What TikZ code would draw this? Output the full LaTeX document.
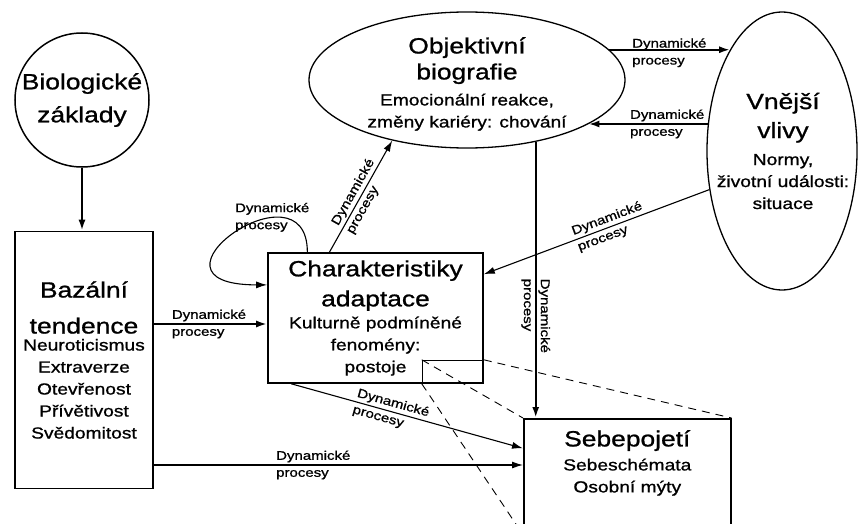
\documentclass[tikz,border=0pt]{standalone}
\usepackage{fontspec}
\setmainfont{Liberation Sans}[FakeStretch=1.2, FakeBold=1]
\usepackage{tikz}
\usetikzlibrary{arrows.meta,shapes.geometric,positioning}

\newcommand{\titlefont}{\fontsize{22}{30}\selectfont}
\newcommand{\itemfont}{\fontsize{16}{22}\selectfont}
\newcommand{\procfont}{\fontsize{12.5}{17}\selectfont}

\begin{document}
\begin{tikzpicture}[x=1pt, y=-1pt, >={Latex[length=11pt,width=7pt]},
    box/.style={draw, line width=1.6pt, fill=white, inner sep=0pt, align=center, font=\itemfont},
    oval/.style={draw, ellipse, line width=1.3pt, inner sep=0pt},
    txt/.style={align=center, font=\itemfont, inner sep=0pt},
    proc/.style={align=left, font=\procfont, inner sep=0pt},
    flow/.style={->, line width=1.1pt},
    bold flow/.style={->, line width=2.2pt},
    zoom line/.style={dash pattern=on 8pt off 6pt, line width=0.9pt}]
  \def \dyn {Dynamické\\procesy}
  \useasboundingbox (0,0) rectangle (859,524);

  % uzly
  \node[draw, circle, line width=1.5pt, minimum size=134pt, inner sep=0pt, align=center, font=\titlefont] (bio) at (82,100) {Biologické\\[3pt]základy};
  \node[box, minimum width=138pt, minimum height=257pt] (baz) at (84,360)
    {{\titlefont Bazální}\\[14pt]{\titlefont tendence}\\[-5pt]Neuroticismus\\Extraverze\\Otevřenost\\Přívětivost\\Svědomitost};
  \node[box, minimum width=215pt, minimum height=130pt] (char) at (375.5,318)
    {{\titlefont Charakteristiky}\\[8pt]{\titlefont adaptace}\\Kulturně podmíněné\\fenomény:\\postoje};
  \node[draw, line width=1pt, minimum width=61pt, minimum height=23pt, inner sep=0pt, anchor=south east] (postoje) at (char.south east) {};
  \node[box, minimum width=207pt, minimum height=115pt, anchor=north west] (sebe) at (523,418) {};
  \node[txt, below=12pt of sebe.north] (sebetxt) {{\titlefont Sebepojetí}\\[2pt]Sebeschémata\\Osobní mýty};

  \node[oval, minimum width=316pt, minimum height=136pt] (obj) at (467,80) {};
  \node[txt] (objtxt) at (467,84) {{\titlefont Objektivní}\\[4pt]{\titlefont biografie}\\[4pt]Emocionální reakce,\\změny kariéry: chování};
  \node[oval, minimum width=150pt, minimum height=278pt] (vne) at (782,151) {};
  \node[txt] (vnetxt) at (783,151) {{\titlefont Vnější}\\[7pt]{\titlefont vlivy}\\[5pt]Normy,\\životní události:\\situace};

  \coordinate (midlvl) at (0,324);
  \coordinate (lowlvl) at (0,465);

  % spojnice
  \draw[bold flow] (bio.south) -- (bio.south |- baz.north);
  \draw[bold flow] (baz.east |- midlvl) -- node[proc, anchor=west, pos=0.15] {\dyn} (char.west |- midlvl);
  \draw[flow] (baz.east |- lowlvl) -- node[proc, anchor=west, pos=0.33] {\dyn} (sebe.west |- lowlvl);
  \draw[flow] (char.218) -- node[proc, sloped, pos=0.43] {\dyn} (sebe.165);
  \draw[flow] (char.125) -- node[proc, sloped, pos=0.5] {\dyn} (obj.219);
  \draw[flow] (char.136) .. controls +(0,-95) and +(-140,0) .. node[proc, pos=0.3] {\dyn} (char.163);
  \draw[flow] (vne.208) -- node[proc, sloped, pos=0.44] {\dyn} (char.22);
  \draw[bold flow] (obj.12) -- node[proc, anchor=west, pos=0.18, yshift=-3pt] {\dyn} (obj.12 -| vne.117);
  \draw[bold flow] (vne.160) -- node[proc, anchor=west, pos=0.66] {\dyn} (vne.160 -| obj.340);
  \draw[bold flow] (obj.318) -- node[proc, rotate=-90, pos=0.63] {\dyn} (obj.318 |- sebe.north);

  \foreach \c in {north west, south west, north east}
    \draw[zoom line] (postoje.\c) -- (sebe.\c);
\end{tikzpicture}
\end{document}
